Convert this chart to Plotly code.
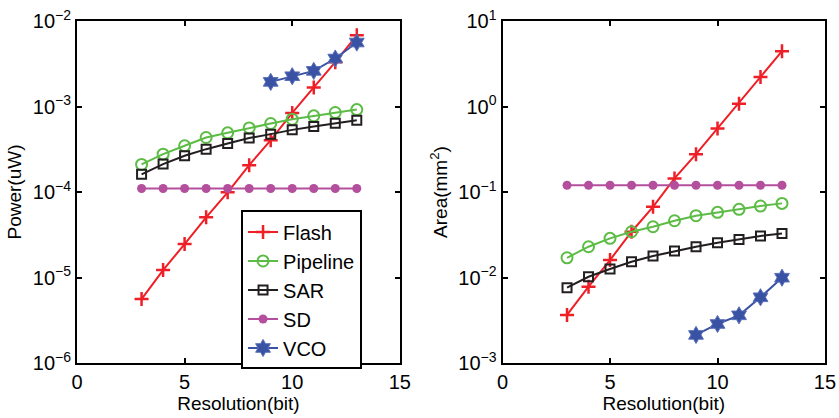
import plotly.graph_objects as go

bits = [3, 4, 5, 6, 7, 8, 9, 10, 11, 12, 13]
vco_bits = [9, 10, 11, 12, 13]

# Power (uW)
power_flash = [5.6e-6, 1.22e-5, 2.46e-5, 5.05e-5, 9.9e-5, 2.06e-4, 4.04e-4, 8.4e-4, 1.67e-3, 3.3e-3, 6.8e-3]
power_pipeline = [2.1e-4, 2.77e-4, 3.47e-4, 4.34e-4, 4.92e-4, 5.62e-4, 6.33e-4, 7.1e-4, 7.77e-4, 8.5e-4, 9.2e-4]
power_sar = [1.61e-4, 2.12e-4, 2.65e-4, 3.17e-4, 3.70e-4, 4.27e-4, 4.75e-4, 5.33e-4, 5.84e-4, 6.38e-4, 6.92e-4]
power_sd = [1.1e-4] * 11
power_vco = [1.94e-3, 2.26e-3, 2.61e-3, 3.64e-3, 5.6e-3]

# Area (mm^2)
area_flash = [3.65e-3, 7.8e-3, 1.6e-2, 3.43e-2, 6.7e-2, 0.144, 0.277, 0.553, 1.08, 2.22, 4.43]
area_pipeline = [0.017, 0.0229, 0.0287, 0.0343, 0.0392, 0.0461, 0.0528, 0.0578, 0.0627, 0.0685, 0.0736]
area_sar = [0.0076, 0.0102, 0.01256, 0.0153, 0.0178, 0.0204, 0.0229, 0.0255, 0.0279, 0.0306, 0.0328]
area_sd = [0.12] * 11
area_vco = [0.00213, 0.00286, 0.00361, 0.00587, 0.00995]

x_ticks = [0, 5, 10, 15]
power_ticks = [1e-6, 1e-5, 1e-4, 1e-3, 1e-2]
power_ticktext = ["10<sup>−6</sup>", "10<sup>−5</sup>", "10<sup>−4</sup>", "10<sup>−3</sup>", "10<sup>−2</sup>"]
area_ticks = [1e-3, 1e-2, 1e-1, 1e0, 1e1]
area_ticktext = ["10<sup>−3</sup>", "10<sup>−2</sup>", "10<sup>−1</sup>", "10<sup>0</sup>", "10<sup>1</sup>"]

RED = "#ee1f26"
GREEN = "#5cbc45"
BLACK = "#231f20"
MAGENTA = "#b44f9e"
BLUE = "#3a52a3"

series = [
    ("Flash", RED, dict(symbol="cross-thin", size=10, line=dict(width=2.5, color=RED))),
    ("Pipeline", GREEN, dict(symbol="circle-open", size=11, line=dict(width=2, color=GREEN))),
    ("SAR", BLACK, dict(symbol="square-open", size=9, line=dict(width=2, color=BLACK))),
    ("SD", MAGENTA, dict(symbol="circle", size=9, color=MAGENTA)),
    ("VCO", BLUE, dict(symbol="hexagram", size=13, color=BLUE, line=dict(width=1, color="#5a6fb8"))),
]

power_data = [(bits, power_flash), (bits, power_pipeline), (bits, power_sar), (bits, power_sd), (vco_bits, power_vco)]
area_data = [(bits, area_flash), (bits, area_pipeline), (bits, area_sar), (bits, area_sd), (vco_bits, area_vco)]

fig = go.Figure()
for (name, color, mk), (xs, ys) in zip(series, power_data):
    fig.add_trace(go.Scatter(x=xs, y=ys, mode="lines+markers", name=name,
                             line=dict(color=color, width=2), marker=mk,
                             xaxis="x", yaxis="y", showlegend=True))
for (name, color, mk), (xs, ys) in zip(series, area_data):
    fig.add_trace(go.Scatter(x=xs, y=ys, mode="lines+markers", name=name,
                             line=dict(color=color, width=2), marker=mk,
                             xaxis="x2", yaxis="y2", showlegend=False))

FAM = "Liberation Sans, Arial, sans-serif"
font = dict(family=FAM, size=19, color="black")
tick_font = dict(family=FAM, size=20, color="black")
legend_font = dict(family=FAM, size=20, color="black")
axis_common = dict(showgrid=False, zeroline=False, showline=True, linecolor="black", linewidth=2,
                   mirror="allticks", ticks="inside", ticklen=5, tickwidth=1.5, tickcolor="black",
                   tickfont=tick_font, automargin=False)

fig.update_layout(
    width=839, height=418,
    margin=dict(l=77, r=14, t=21, b=55),
    paper_bgcolor="white", plot_bgcolor="white",
    font=font,
    xaxis=dict(domain=[0.0, 0.4316], range=[0, 15], tickvals=x_ticks,
               title=dict(text="Resolution(bit)", font=font, standoff=0), anchor="y", **axis_common),
    yaxis=dict(domain=[0, 1], type="log", range=[-6, -2], tickvals=power_ticks,
               ticktext=power_ticktext, title=dict(text="Power(uW)", font=font, standoff=6),
               anchor="x", **axis_common),
    xaxis2=dict(domain=[0.5689, 1.0], range=[0, 15], tickvals=x_ticks,
                title=dict(text="Resolution(bit)", font=font, standoff=0), anchor="y2", **axis_common),
    yaxis2=dict(domain=[0, 1], type="log", range=[-3, 1], tickvals=area_ticks,
                ticktext=area_ticktext, title=dict(text="Area(mm<sup>2</sup>)", font=font, standoff=6),
                anchor="x2", **axis_common),
    legend=dict(x=0.2193, y=0.446, xanchor="left", yanchor="top", bgcolor="white",
                bordercolor="black", borderwidth=2, font=legend_font, tracegroupgap=0, itemwidth=30),
)

fig.write_html("out.html", config={"displayModeBar": False},
               post_script="document.body.style.margin='0';document.body.style.overflow='hidden';")
